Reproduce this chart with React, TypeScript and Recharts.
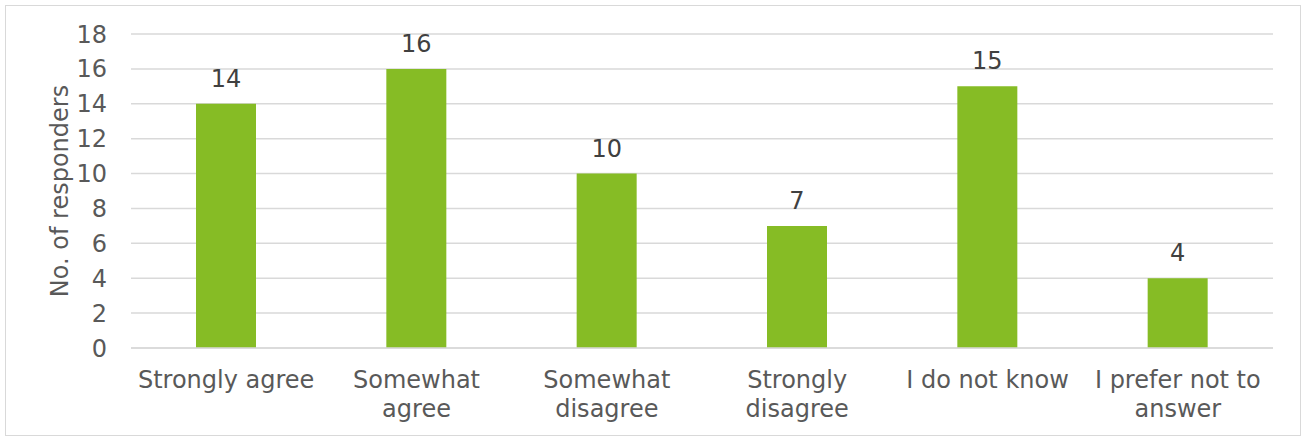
import { Bar, BarChart, CartesianGrid, LabelList, XAxis, YAxis } from 'recharts';

const categories = [
  'Strongly agree',
  'Somewhat agree',
  'Somewhat disagree',
  'Strongly disagree',
  'I do not know',
  'I prefer not to answer',
];
const responders = [14, 16, 10, 7, 15, 4];
const tickLines: Record<string, string[]> = {
  'Strongly agree': ['Strongly agree'],
  'Somewhat agree': ['Somewhat', 'agree'],
  'Somewhat disagree': ['Somewhat', 'disagree'],
  'Strongly disagree': ['Strongly', 'disagree'],
  'I do not know': ['I do not know'],
  'I prefer not to answer': ['I prefer not to', 'answer'],
};
const yTicks = [0, 2, 4, 6, 8, 10, 12, 14, 16, 18];

const data = categories.map((name, i) => ({ name, value: responders[i] }));

const FONT = '"DejaVu Sans", Verdana, sans-serif';
const TEXT = '#595959';
const GRID = '#d9d9d9';
const GREEN = '#86bc25';

function CategoryTick(props: any) {
  const { x, y, payload } = props;
  const lines = tickLines[payload.value] ?? [payload.value];
  return (
    <text x={x} y={y} textAnchor="middle" fill={TEXT} fontSize={24} fontFamily={FONT}>
      {lines.map((line, i) => (
        <tspan key={line} x={x} dy={i === 0 ? 40 : 29}>
          {line}
        </tspan>
      ))}
    </text>
  );
}

function AxisTitle() {
  return (
    <text
      x={68}
      y={191}
      transform="rotate(-90, 68, 191)"
      textAnchor="middle"
      fill={TEXT}
      fontSize={24}
      fontFamily={FONT}
    >
      No. of responders
    </text>
  );
}

export default function App() {
  return (
    <div style={{ position: 'absolute', left: 0, top: 0, width: 1306, height: 439, background: '#fff' }}>
      <div
        style={{
          position: 'absolute',
          left: 5,
          top: 5,
          width: 1296,
          height: 431,
          border: `1px solid ${GRID}`,
          boxSizing: 'border-box',
        }}
      />
      <BarChart
        width={1306}
        height={439}
        data={data}
        margin={{ top: 34, right: 33, bottom: 0, left: 0 }}
        barSize={60}
      >
        <CartesianGrid vertical={false} stroke={GRID} strokeWidth={1.5} />
        <XAxis
          dataKey="name"
          height={91}
          axisLine={{ stroke: GRID, strokeWidth: 1.5 }}
          tickLine={false}
          tickSize={0}
          tickMargin={0}
          interval={0}
          tick={<CategoryTick />}
        />
        <YAxis
          width={131}
          domain={[0, 18]}
          ticks={yTicks}
          axisLine={false}
          tickLine={false}
          tickSize={0}
          tickMargin={24}
          tick={{ fill: TEXT, fontSize: 24, fontFamily: FONT }}
          label={{ content: () => <AxisTitle /> }}
        />
        <Bar dataKey="value" fill={GREEN} isAnimationActive={false}>
          <LabelList
            dataKey="value"
            position="top"
            offset={17}
            fill="#404040"
            fontSize={24}
            fontFamily={FONT}
          />
        </Bar>
      </BarChart>
    </div>
  );
}
